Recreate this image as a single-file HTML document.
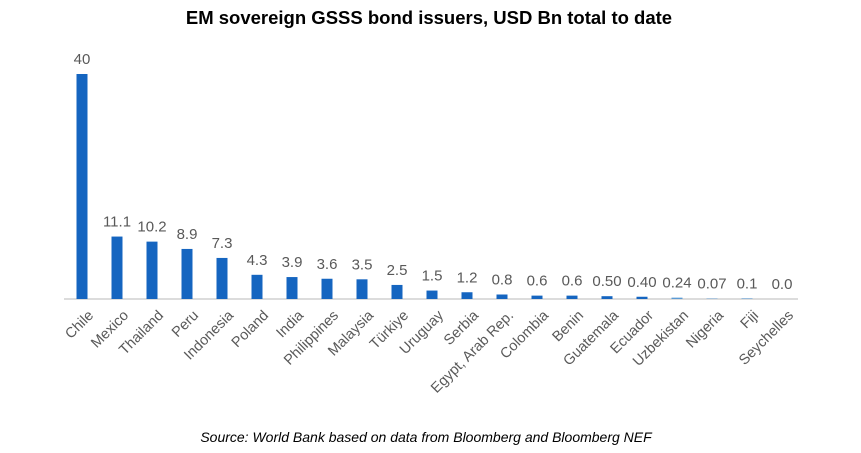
<!DOCTYPE html>
<html><head><meta charset="utf-8"><style>
body{margin:0;background:#fff;}
svg{display:block;font-family:"Liberation Sans",sans-serif;}
</style></head><body>
<svg width="861" height="453">
<text x="429" y="24" text-anchor="middle" font-size="18.5" font-weight="bold" fill="#000">EM sovereign GSSS bond issuers, USD Bn total to date</text>
<line x1="64" y1="299" x2="798" y2="299" stroke="#d0d0d0" stroke-width="1.5"/>
<g id="bars"></g>
<text x="426" y="442" text-anchor="middle" font-size="14" font-style="italic" fill="#000">Source: World Bank based on data from Bloomberg and Bloomberg NEF</text>
</svg>
<script>
const categories=["Chile","Mexico","Thailand","Peru","Indonesia","Poland","India","Philippines","Malaysia","Türkiye","Uruguay","Serbia","Egypt, Arab Rep.","Colombia","Benin","Guatemala","Ecuador","Uzbekistan","Nigeria","Fiji","Seychelles"];
const values=[40,11.1,10.2,8.9,7.3,4.3,3.9,3.6,3.5,2.5,1.5,1.2,0.8,0.6,0.6,0.5,0.4,0.24,0.07,0.1,0.0];
const valueLabels=["40","11.1","10.2","8.9","7.3","4.3","3.9","3.6","3.5","2.5","1.5","1.2","0.8","0.6","0.6","0.50","0.40","0.24","0.07","0.1","0.0"];
const NS="http://www.w3.org/2000/svg";
const g=document.getElementById('bars');
const baseY=299, topY=74, maxV=40;
function y(v){return baseY-(v/maxV)*(baseY-topY);}
function x(i){return 82+i*35;}
categories.forEach((c,i)=>{
  const v=values[i];
  const r=document.createElementNS(NS,'rect');
  r.setAttribute('x',x(i)-5.5);r.setAttribute('width',11);
  r.setAttribute('y',y(v));r.setAttribute('height',Math.max(baseY-y(v),0));
  r.setAttribute('fill',v<0.3?'#5b9bd5':'#1565c0');
  
  
  g.appendChild(r);
  const t=document.createElementNS(NS,'text');
  t.setAttribute('x',x(i));t.setAttribute('y',y(v)-10);
  t.setAttribute('text-anchor','middle');t.setAttribute('font-size','15');t.setAttribute('fill','#595959');
  t.textContent=valueLabels[i];
  
  
  g.appendChild(t);
  const l=document.createElementNS(NS,'text');
  l.setAttribute('transform','translate('+(x(i)+5)+',309) rotate(-45)');
  l.setAttribute('text-anchor','end');l.setAttribute('font-size','14.5');l.setAttribute('fill','#595959');
  l.setAttribute('dy','0.7em');
  l.textContent=c;
  
  
  g.appendChild(l);
});
</script>
</body></html>
